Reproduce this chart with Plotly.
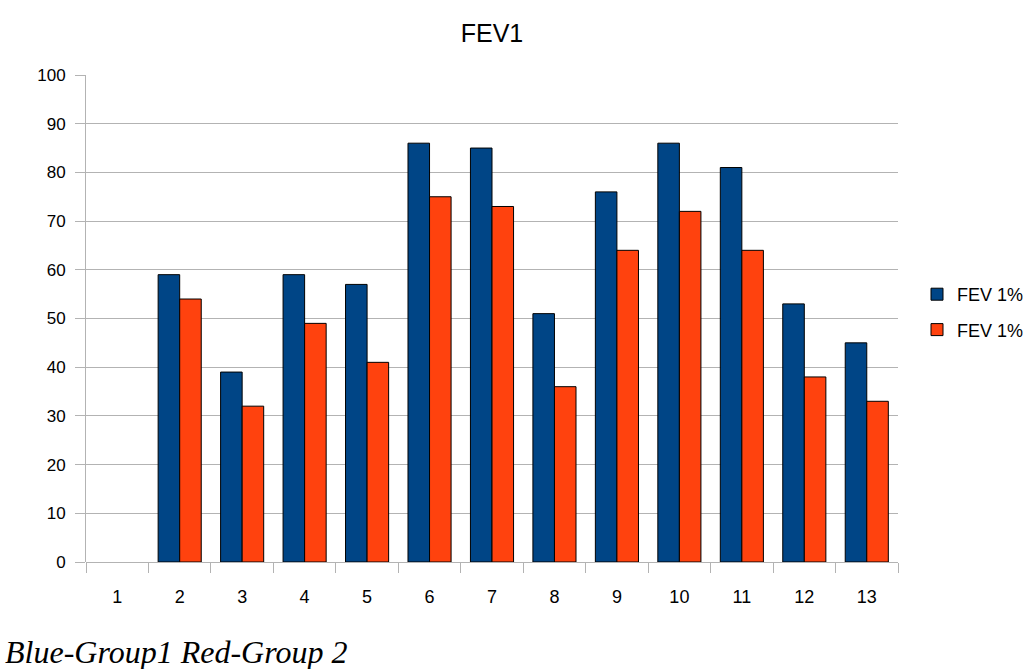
import plotly.graph_objects as go

categories = [str(i) for i in range(1, 14)]
group1 = [None, 59, 39, 59, 57, 86, 85, 51, 76, 86, 81, 53, 45]
group2 = [None, 54, 32, 49, 41, 75, 73, 36, 64, 72, 64, 38, 33]
series_names = ["FEV 1%", "FEV 1%"]
y_ticks = list(range(0, 101, 10))

W, H = 1029, 669
L, R, T, B = 86, 131, 75, 107
pw = W - L - R
ph = H - T - B

fig = go.Figure()
fig.add_trace(go.Bar(x=categories, y=group1, name=series_names[0], legendgroup="g1",
                     marker=dict(color="#004586", line=dict(color="#000000", width=1))))
fig.add_trace(go.Bar(x=categories, y=group2, name=series_names[1], legendgroup="g2",
                     marker=dict(color="#ff420e", line=dict(color="#000000", width=1))))

font = "Liberation Sans, Arial, sans-serif"
fig.update_layout(
    width=W, height=H,
    margin=dict(l=L, r=R, t=T, b=B, autoexpand=False),
    plot_bgcolor="white", paper_bgcolor="white",
    barmode="group", bargap=0.31, bargroupgap=0,
    font=dict(family=font, size=17, color="#000000"),
    title=dict(text="FEV1", x=(L + pw / 2) / W, xanchor="center",
               y=1 - 33 / H, yanchor="middle", yref="container",
               font=dict(family=font, size=25, color="#000000")),
    legend=dict(x=(917 - L) / pw, xanchor="left", y=(H - B - 276) / ph,
                yanchor="top", font=dict(family=font, size=18),
                traceorder="grouped", tracegroupgap=9, itemwidth=30,
                bgcolor="rgba(0,0,0,0)"),
    showlegend=True,
)
fig.update_xaxes(type="category", tickson="boundaries", ticks="outside", ticklen=10,
                 tickcolor="#b3b3b3", showgrid=False, showline=False,
                 tickfont=dict(family=font, size=18, color="#000000"), ticklabelstandoff=22)
fig.update_yaxes(range=[0, 100], tickvals=y_ticks, showgrid=True, gridcolor="#b3b3b3",
                 gridwidth=1, showline=True, linecolor="#b3b3b3", linewidth=1,
                 ticks="outside", ticklen=10, tickcolor="#b3b3b3", zeroline=True,
                 zerolinecolor="#b3b3b3", zerolinewidth=1, ticklabelstandoff=6,
                 tickfont=dict(family=font, size=17, color="#000000"))

fig.add_annotation(text="<i>Blue-Group1 Red-Group 2</i>", xref="paper", yref="paper",
                   x=(3 - L) / pw, xanchor="left", y=(H - B - 652) / ph, yanchor="middle",
                   showarrow=False,
                   font=dict(family="Liberation Serif, Times New Roman, serif", size=32, color="#000000"))

fig.write_html("out.html", config={"displayModeBar": False},
               post_script="document.body.style.margin='0';document.body.style.overflow='hidden';")
